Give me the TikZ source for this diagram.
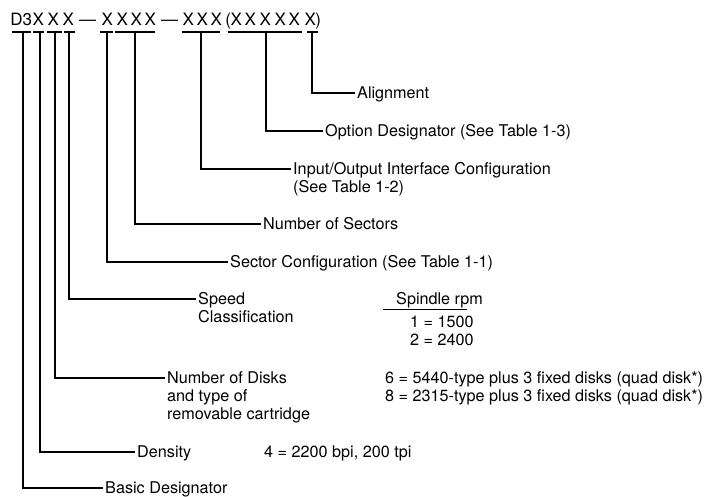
\documentclass[tikz,border=0pt]{standalone}
\usepackage{fontspec}
\setmainfont{TeX Gyre Heros}
\newcommand{\hc}[2]{\hspace*{#1pt}\makebox[0pt]{#2}}
\begin{document}
\begin{tikzpicture}[x=1pt,y=-1pt,
  lbl/.style={anchor=base west, inner xsep=2.5pt, inner ysep=0pt, font=\fontsize{16.2}{18.3}\selectfont},
  txt/.style={anchor=base west, inner sep=0pt, font=\fontsize{16.2}{18.3}\selectfont},
  bar/.style={line width=1.6pt},
  conn/.style={line width=1.6pt}]
\useasboundingbox (0,0) rectangle (705,496);

% header code
\node[txt, font=\fontsize{17}{19}\selectfont] (code) at (0,25) {\hc{21}{D3}\hc{17}{X}\hc{15}{X}\hc{15}{X}\hc{19.5}{\textemdash}\hc{19.5}{X}\hc{15}{X}\hc{14}{X}\hc{14}{X}\hc{19.5}{\textemdash}\hc{18.5}{X}\hc{14}{X}\hc{14}{X}\hc{12}{(}\hc{8}{X}\hc{14}{X}\hc{15}{X}\hc{15}{X}\hc{14}{X}\hc{16}{X}\hc{8}{)}};

% underline bars
\foreach \a/\b in {12/31,33/44,47/62,64/75,100/113,115/155,182/220,228/302,307/318}
  \draw[bar] (\a,32) -- (\b,32);

% connector tops
\coordinate (t1) at (23,32);
\coordinate (t2) at (40,32);
\coordinate (t3) at (55,32);
\coordinate (t4) at (69,32);
\coordinate (t5) at (107,32);
\coordinate (t6) at (135,32);
\coordinate (t7) at (201,32);
\coordinate (t8) at (266,32);
\coordinate (t9) at (312,32);

% labels
\node[lbl] (align) at (354.5,98) {Alignment};
\node[lbl] (opt) at (322.5,136) {Option Designator (See Table 1-3)};
\node[lbl] (io) at (290.5,174) {Input/Output Interface Configuration};
\node[lbl] (io2) at (290.5,192.3) {(See Table 1-2)};
\node[lbl] (nsec) at (260.5,229) {Number of Sectors};
\node[lbl] (scfg) at (227.5,267) {Sector Configuration (See Table 1-1)};
\node[lbl] (speed) at (195.5,304) {Speed};
\node[lbl] (speed2) at (195.5,322.3) {Classification};
\node[lbl] (disks) at (164.5,383) {Number of Disks};
\node[lbl] (disks2) at (164.5,401.3) {and type of};
\node[lbl] (disks3) at (164.5,419.6) {removable cartridge};
\node[lbl] (dens) at (134.5,457) {Density};
\node[lbl] (basic) at (102.5,493) {Basic Designator};

% connectors
\draw[conn] (t9) |- ([yshift=5pt]align.base west);
\draw[conn] (t8) |- ([yshift=5pt]opt.base west);
\draw[conn] (t7) |- ([yshift=5pt]io.base west);
\draw[conn] (t6) |- ([yshift=5pt]nsec.base west);
\draw[conn] (t5) |- ([yshift=5pt]scfg.base west);
\draw[conn] (t4) |- ([yshift=5pt]speed.base west);
\draw[conn] (t3) |- ([yshift=5pt]disks.base west);
\draw[conn] (t2) |- ([yshift=5pt]dens.base west);
\draw[conn] (t1) |- ([yshift=5pt]basic.base west);

% value tables
\node[txt] (rpm) at (396,304) {Spindle rpm};
\draw[line width=0.9pt] (383,309) -- (467,309);
\node[txt] (r1) at (410,327) {1 = 1500};
\node[txt] (r2) at (410,345.3) {2 = 2400};
\node[txt] (d6) at (385,383) {6 = 5440-type plus 3 fixed disks (quad disk*)};
\node[txt] (d8) at (385,401.3) {8 = 2315-type plus 3 fixed disks (quad disk*)};
\node[txt] (den) at (264,457) {4 = 2200 bpi, 200 tpi};
\end{tikzpicture}
\end{document}
